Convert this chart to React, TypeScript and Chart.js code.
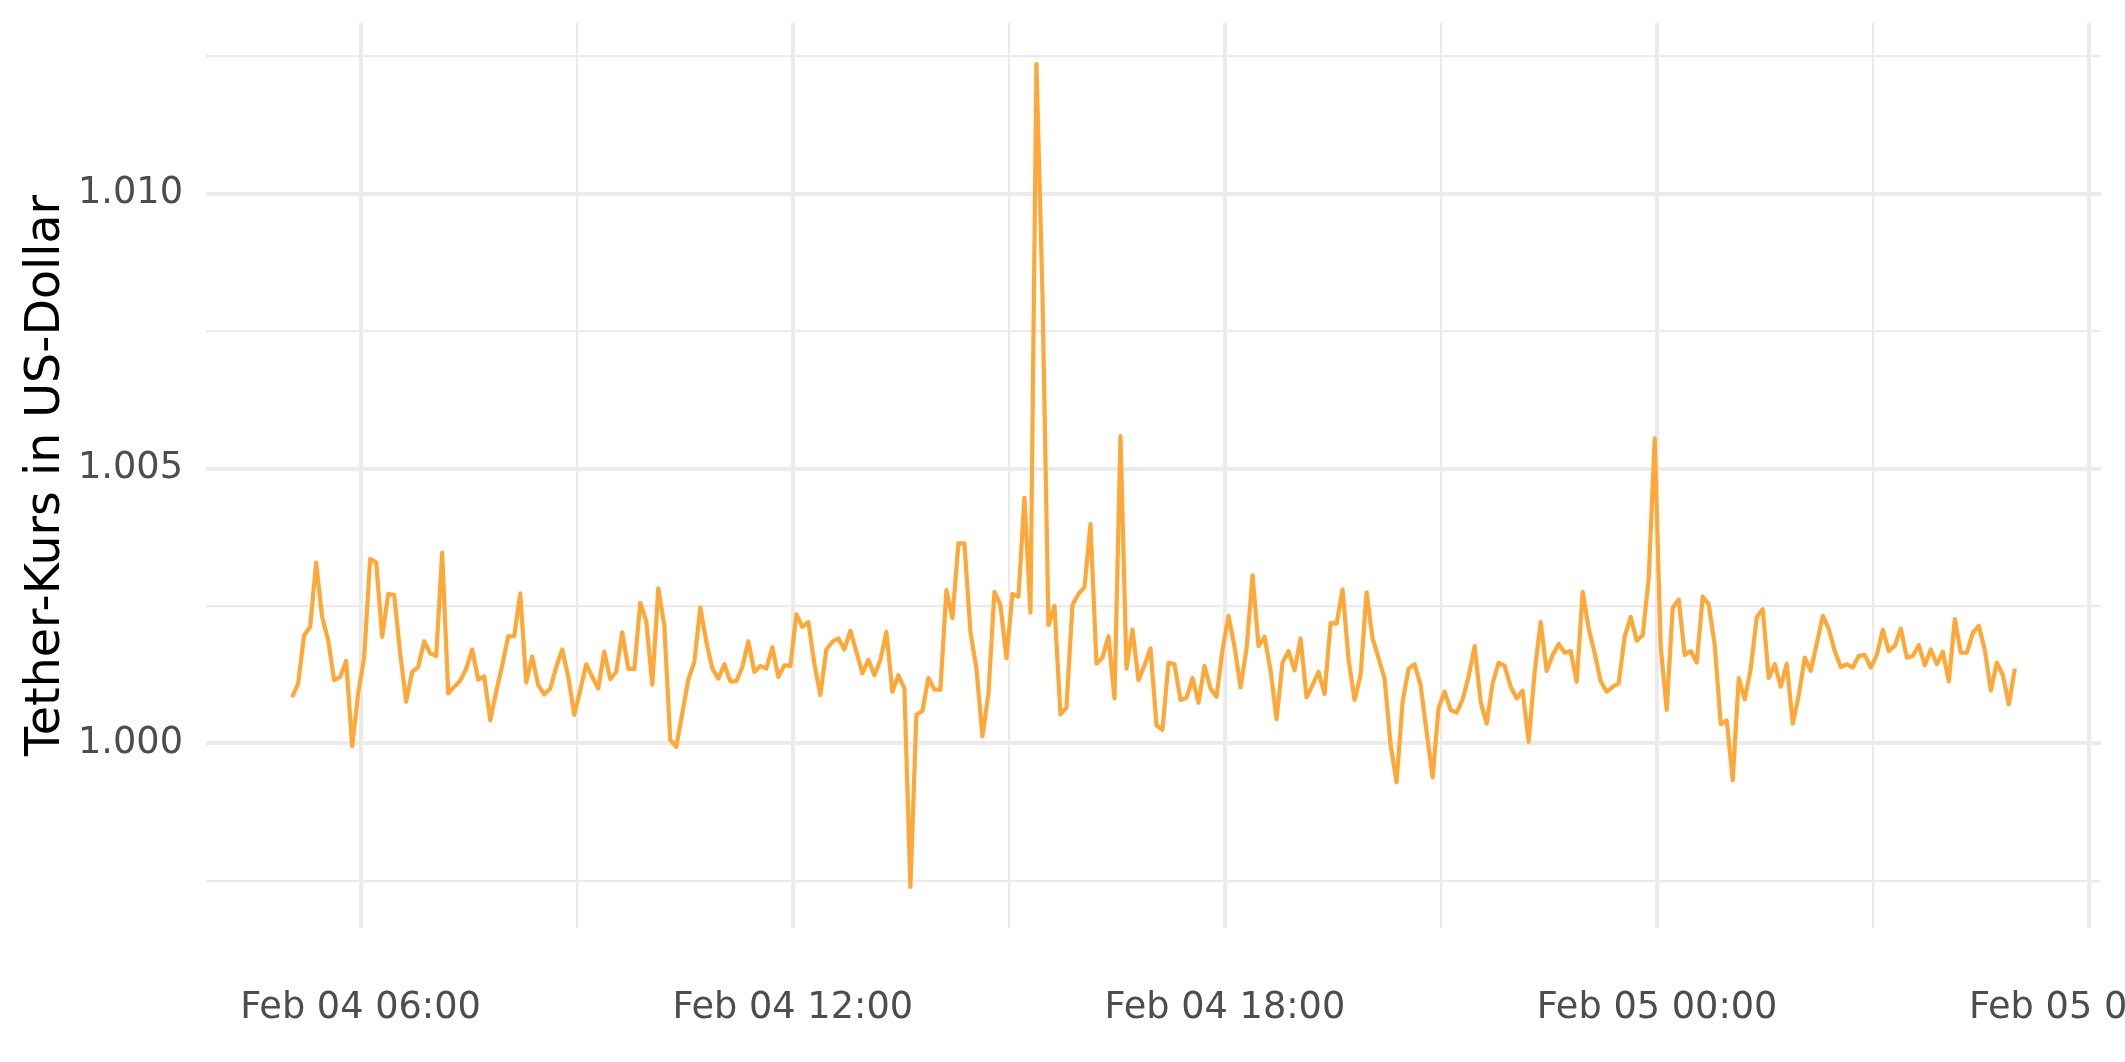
import React, { useEffect, useRef } from "react";
import { Chart, registerables } from "chart.js";

Chart.register(...registerables);

// Time of the first observation, in minutes after Feb 04 00:00; one value every 5 minutes
const START_MINUTE = 303;
const STEP_MINUTES = 5;

// Tether price in US dollar, Feb 04 05:03 – 11:00
const kurs1 = [
  1.00084, 1.00109, 1.00197, 1.00212, 1.00329, 1.0023, 1.00188, 1.00115, 1.00121, 1.0015, 0.99995, 1.00091,
  1.00156, 1.00336, 1.00329, 1.00194, 1.00272, 1.0027, 1.00164, 1.00076, 1.0013, 1.00139, 1.00186, 1.00164,
  1.00159, 1.00347, 1.00091, 1.00103, 1.00114, 1.00136, 1.00171, 1.00116, 1.00122, 1.00042, 1.00094, 1.00142,
  1.00195, 1.00195, 1.00273, 1.00111, 1.00158, 1.00106, 1.00089, 1.001, 1.00139, 1.00171, 1.00121, 1.00052,
  1.00097, 1.00144, 1.00121, 1.001, 1.00167, 1.00117, 1.0013, 1.00202, 1.00136, 1.00135, 1.00256, 1.00222,
  1.00107, 1.00282, 1.00215, 1.00006, 0.99994, 1.00055, 1.00116, 1.00148, 1.00247, 1.00185, 1.00136, 1.00118,
];
// Feb 04 11:03 – 17:00
const kurs2 = [
  1.00144, 1.00113, 1.00113, 1.00139, 1.00186, 1.0013, 1.00141, 1.00136, 1.00175, 1.00121, 1.00142, 1.00141,
  1.00235, 1.00212, 1.00221, 1.00145, 1.00088, 1.00171, 1.00185, 1.00191, 1.00171, 1.00205, 1.00167, 1.00128,
  1.00152, 1.00124, 1.00152, 1.00203, 1.00094, 1.00124, 1.001, 0.99739, 1.00052, 1.00059, 1.00119, 1.00098,
  1.00098, 1.00279, 1.00228, 1.00364, 1.00364, 1.00203, 1.00136, 1.00013, 1.0009, 1.00276, 1.00252, 1.00155,
  1.00272, 1.00267, 1.00447, 1.00238, 1.01236, 1.0082, 1.00215, 1.0025, 1.00053, 1.00065, 1.00252, 1.00272,
  1.00284, 1.00399, 1.00145, 1.00156, 1.00195, 1.00082, 1.00559, 1.00136, 1.00207, 1.00115, 1.00142, 1.00173,
];
// Feb 04 17:03 – 23:00
const kurs3 = [
  1.00033, 1.00025, 1.00147, 1.00144, 1.00079, 1.00083, 1.00119, 1.00074, 1.00141, 1.001, 1.00085, 1.0017,
  1.00232, 1.00176, 1.00102, 1.00172, 1.00306, 1.00177, 1.00194, 1.00133, 1.00044, 1.00147, 1.00168, 1.00133,
  1.00191, 1.00084, 1.00106, 1.0013, 1.0009, 1.00219, 1.00218, 1.0028, 1.00152, 1.00079, 1.00124, 1.00275,
  1.00191, 1.00155, 1.00118, 0.99997, 0.99929, 1.00076, 1.00136, 1.00144, 1.00106, 1.00021, 0.99938, 1.00065,
  1.00094, 1.00061, 1.00056, 1.0008, 1.00122, 1.00177, 1.00076, 1.00036, 1.00109, 1.00147, 1.00141, 1.00103,
  1.00082, 1.00096, 1.00003, 1.0013, 1.00221, 1.00132, 1.00161, 1.00181, 1.00165, 1.00168, 1.00112, 1.00276,
];
// Feb 04 23:03 – Feb 05 04:58
const kurs4 = [
  1.00209, 1.00164, 1.00113, 1.00094, 1.00103, 1.00109, 1.00195, 1.0023, 1.00187, 1.00197, 1.003, 1.00555,
  1.00176, 1.00061, 1.00247, 1.00262, 1.00161, 1.00168, 1.00147, 1.00267, 1.00253, 1.00179, 1.00035, 1.00042,
  0.99933, 1.00119, 1.0008, 1.00136, 1.0023, 1.00244, 1.00119, 1.00144, 1.00103, 1.00145, 1.00036, 1.00088,
  1.00156, 1.00132, 1.00182, 1.00232, 1.00208, 1.00168, 1.00139, 1.00144, 1.00138, 1.00159, 1.00161, 1.00138,
  1.00161, 1.00207, 1.00168, 1.00178, 1.00209, 1.00156, 1.00159, 1.00179, 1.00142, 1.00171, 1.00144, 1.00167,
  1.00113, 1.00226, 1.00165, 1.00165, 1.00201, 1.00214, 1.0017, 1.00096, 1.00147, 1.00124, 1.00071, 1.00136,
];

// Axis ticks (minutes after Feb 04 00:00) and labels
const xMajorTicks = [360, 720, 1080, 1440, 1800];
const xMajorLabels = ["Feb 04 06:00", "Feb 04 12:00", "Feb 04 18:00", "Feb 05 00:00", "Feb 05 06:00"];
const xMinorTicks = [540, 900, 1260, 1620];
const yMajorTicks = [1.0, 1.005, 1.01];
const yMajorLabels = ["1.000", "1.005", "1.010"];
const yMinorTicks = [0.9975, 1.0025, 1.0075, 1.0125];

const Y_TITLE = "Tether-Kurs in US-Dollar";
const LINE_COLOR = "#FFA83A";
const GRID_COLOR = "#EBEBEB";
const FONT = "'DejaVu Sans', sans-serif";

export default function App() {
  const canvasRef = useRef<HTMLCanvasElement | null>(null);

  useEffect(() => {
    const canvas = canvasRef.current;
    if (!canvas) return;
    const values = [...kurs1, ...kurs2, ...kurs3, ...kurs4];
    const points = values.map((v, i) => ({ x: START_MINUTE + i * STEP_MINUTES, y: v }));
    const n = values.length;
    const xSpan = (n - 1) * STEP_MINUTES;
    const xMin = START_MINUTE - 0.05 * xSpan;
    const xMax = START_MINUTE + xSpan + 0.05 * xSpan;
    const vMin = Math.min(...values);
    const vMax = Math.max(...values);
    const ySpan = vMax - vMin;
    const yMin = vMin - 0.05 * ySpan;
    const yMax = vMax + 0.05 * ySpan;

    const xTickVals = [...xMajorTicks, ...xMinorTicks].sort((a, b) => a - b);
    const yTickVals = [...yMajorTicks, ...yMinorTicks].sort((a, b) => a - b);

    const chart = new Chart(canvas, {
      type: "line",
      data: {
        datasets: [
          {
            data: points,
            borderColor: LINE_COLOR,
            borderWidth: 4.2,
            pointRadius: 0,
            tension: 0,
            fill: false,
            borderJoinStyle: "round",
          },
        ],
      },
      options: {
        responsive: false,
        animation: false,
        devicePixelRatio: 1,
        layout: { padding: { left: 0, right: 24, top: 23, bottom: 0 } },
        plugins: { legend: { display: false }, tooltip: { enabled: false } },
        scales: {
          x: {
            type: "linear",
            min: xMin,
            max: xMax,
            afterBuildTicks: (scale: any) => {
              scale.ticks = xTickVals.map((v) => ({ value: v }));
            },
            afterFit: (scale: any) => {
              scale.height = 134;
              scale.paddingLeft = 0;
              scale.paddingRight = 0;
            },
            ticks: {
              autoSkip: false,
              maxRotation: 0,
              minRotation: 0,
              padding: 58,
              color: "#4D4D4D",
              font: { family: FONT, size: 36.7 },
              callback: (value: any) => {
                const k = xMajorTicks.indexOf(Number(value));
                return k >= 0 ? xMajorLabels[k] : "";
              },
            },
            grid: {
              color: GRID_COLOR,
              drawTicks: false,
              lineWidth: (ctx: any) => (xMajorTicks.includes(ctx.tick?.value) ? 4 : 2.2),
            },
            border: { display: false },
          },
          y: {
            type: "linear",
            min: yMin,
            max: yMax,
            afterBuildTicks: (scale: any) => {
              scale.ticks = yTickVals.map((v) => ({ value: v }));
            },
            afterFit: (scale: any) => {
              scale.width = 206;
              scale.paddingTop = 0;
              scale.paddingBottom = 0;
            },
            ticks: {
              autoSkip: false,
              padding: 23,
              color: "#4D4D4D",
              font: { family: FONT, size: 36.7 },
              callback: (value: any) => {
                const k = yMajorTicks.findIndex((t) => Math.abs(t - Number(value)) < 1e-9);
                return k >= 0 ? yMajorLabels[k] : "";
              },
            },
            grid: {
              color: GRID_COLOR,
              drawTicks: false,
              lineWidth: (ctx: any) =>
                yMajorTicks.some((t) => Math.abs(t - ctx.tick?.value) < 1e-9) ? 4 : 2.2,
            },
            border: { display: false },
            title: {
              display: true,
              text: Y_TITLE,
              color: "#000000",
              font: { family: FONT, size: 47.5 },
              padding: { top: 18, bottom: 0 },
            },
          },
        },
      },
    });
    return () => chart.destroy();
  }, []);

  return (
    <div style={{ position: "absolute", left: 0, top: 0, width: 2125, height: 1062, background: "#fff" }}>
      <canvas ref={canvasRef} width={2125} height={1062} style={{ display: "block" }} />
    </div>
  );
}
